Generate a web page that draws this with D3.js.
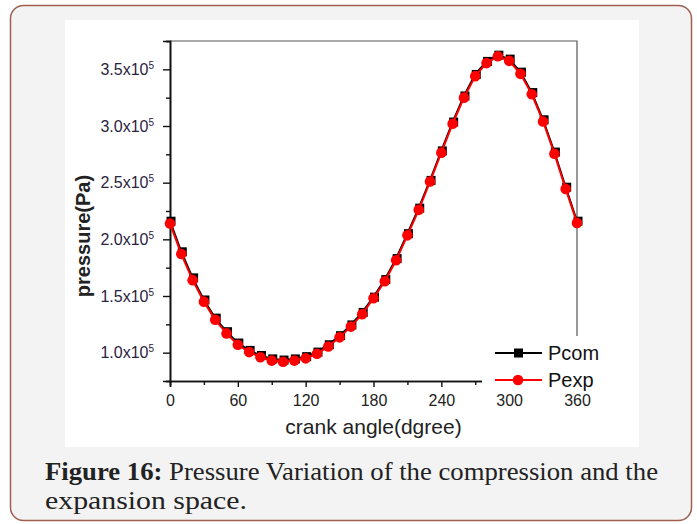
<!DOCTYPE html>
<html>
<head>
<meta charset="utf-8">
<script src="https://cdn.jsdelivr.net/npm/d3@7"></script>
<style>
body{margin:0;background:#ffffff;}
svg{display:block;}
</style>
</head>
<body>
<svg id="pGraph"></svg>
<script>
// crank angle in degrees
var angles = [0,10,20,30,40,50,60,70,80,90,100,110,120,130,140,150,160,170,180,
              190,200,210,220,230,240,250,260,270,280,290,300,310,320,330,340,350,360]

// pressure, in units of 1e5 Pa
var pcom = [2.16,1.89,1.66,1.465,1.305,1.185,1.085,1.02,0.975,0.945,0.935,0.945,0.965,1.005,
            1.07,1.15,1.245,1.355,1.49,1.645,1.83,2.05,2.275,2.52,2.78,3.035,3.265,3.455,
            3.57,3.625,3.59,3.475,3.295,3.055,2.77,2.46,2.16]
var pexp = [2.14,1.87,1.64,1.45,1.29,1.17,1.07,1.005,0.96,0.93,0.92,0.93,0.95,0.99,
            1.055,1.135,1.23,1.34,1.48,1.63,1.815,2.035,2.26,2.51,2.765,3.02,3.25,3.44,
            3.555,3.615,3.575,3.46,3.28,3.04,2.755,2.445,2.145]

var xMajor = [0,60,120,180,240,300,360]
var xMinor = [30,90,150,210,270,330]
var yMajor = [1.0,1.5,2.0,2.5,3.0,3.5]
var yMinor = [0.75,1.25,1.75,2.25,2.75,3.25,3.75]

var legendNames = ["Pcom","Pexp"]

var screen = {width:697,height:524}
var plot = {left:170,right:577,top:41,bottom:381}

var svg = d3.select("#pGraph")
    .attr("width",screen.width)
    .attr("height",screen.height)

// outer card
svg.append("rect")
    .attr("x",10.5).attr("y",5.5)
    .attr("width",681).attr("height",515)
    .attr("rx",13).attr("ry",13)
    .attr("fill","#f3f3f3")
    .attr("stroke","#a0604f")
    .attr("stroke-width",1.5)

// white chart panel
svg.append("rect")
    .attr("x",65).attr("y",20)
    .attr("width",574).attr("height",427)
    .attr("fill","#ffffff")

var xScale = d3.scaleLinear()
    .domain([0,360])
    .range([plot.left,plot.right])

var yScale = d3.scaleLinear()
    .domain([0.75,3.75])
    .range([plot.bottom,plot.top])

// top and right frame
svg.append("path")
    .attr("d","M"+plot.left+","+plot.top+"H"+plot.right+"V"+plot.bottom)
    .attr("fill","none")
    .attr("stroke","#555")
    .attr("stroke-width",1.2)

var drawAxes = function()
{
    var xAxis = d3.axisBottom(xScale).tickValues(xMajor).tickSize(6).tickPadding(8)
        .tickFormat(d3.format("d"))
    var gx = svg.append("g")
        .attr("transform","translate(0,"+plot.bottom+")")
        .call(xAxis)
    svg.append("g")
        .attr("transform","translate(0,"+plot.bottom+")")
        .call(d3.axisBottom(xScale).tickValues(xMinor).tickSize(4).tickFormat(""))

    var yAxis = d3.axisLeft(yScale).tickValues(yMajor).tickSize(7).tickPadding(9)
        .tickFormat(d3.format(".1f"))
    var gy = svg.append("g")
        .attr("transform","translate("+plot.left+",0)")
        .call(yAxis)
    svg.append("g")
        .attr("transform","translate("+plot.left+",0)")
        .call(d3.axisLeft(yScale).tickValues(yMinor).tickSize(4).tickFormat(""))

    svg.selectAll(".domain").attr("stroke","#111").attr("stroke-width",1.6)
    svg.selectAll(".tick line").attr("stroke","#111").attr("stroke-width",1.4)

    gx.selectAll("text")
        .attr("font-family","Liberation Sans, Arial, sans-serif")
        .attr("font-size",16)
        .attr("fill","#222")

    // y labels as 1.0x10^5
    gy.selectAll("text").each(function(d){
        var t = d3.select(this)
        t.text(null)
            .attr("font-family","Liberation Sans, Arial, sans-serif")
            .attr("font-size",16)
            .attr("fill","#2a2440")
        t.append("tspan").text(d3.format(".1f")(d)+"x10")
        t.append("tspan").attr("dy","-0.6em").attr("font-size",10).text("5")
    })
}

var drawSeries = function(values,color,shape)
{
    var line = d3.line()
        .x(function(d,i){return xScale(angles[i])})
        .y(function(d){return yScale(d)})

    svg.append("path")
        .datum(values)
        .attr("d",line)
        .attr("fill","none")
        .attr("stroke",color)
        .attr("stroke-width",2)

    if(shape=="square")
    {
        svg.append("g").selectAll("rect")
            .data(values)
            .enter()
            .append("rect")
            .attr("x",function(d,i){return xScale(angles[i])-4.5+1})
            .attr("y",function(d){return yScale(d)-4.5})
            .attr("width",9)
            .attr("height",9)
            .attr("fill",color)
    }
    else
    {
        svg.append("g").selectAll("circle")
            .data(values)
            .enter()
            .append("circle")
            .attr("cx",function(d,i){return xScale(angles[i])})
            .attr("cy",function(d){return yScale(d)})
            .attr("r",5.3)
            .attr("fill",color)
    }
}

drawAxes()
drawSeries(pcom,"#000000","square")
drawSeries(pexp,"#ff0000","circle")

// axis titles
svg.append("text")
    .attr("x",(plot.left+plot.right)/2)
    .attr("y",434)
    .attr("text-anchor","middle")
    .attr("font-family","Liberation Sans, Arial, sans-serif")
    .attr("font-size",21)
    .attr("fill","#222")
    .text("crank angle(dgree)")

svg.append("text")
    .attr("transform","translate(90,236) rotate(-90)")
    .attr("text-anchor","middle")
    .attr("font-family","Liberation Sans, Arial, sans-serif")
    .attr("font-size",20)
    .attr("font-weight","bold")
    .attr("fill","#222")
    .text("pressure(Pa)")

// legend, its white box covers the corner of the frame
var legend = svg.append("g")
legend.append("rect")
    .attr("x",482).attr("y",336)
    .attr("width",122).attr("height",55)
    .attr("fill","#ffffff")

var legendColors = ["#000000","#ff0000"]
legendNames.forEach(function(name,i){
    var ly = 353 + i*27
    legend.append("line")
        .attr("x1",495).attr("x2",542)
        .attr("y1",ly).attr("y2",ly)
        .attr("stroke",legendColors[i])
        .attr("stroke-width",2)
    if(i==0)
    {
        legend.append("rect")
            .attr("x",514).attr("y",ly-4.5)
            .attr("width",9).attr("height",9)
            .attr("fill",legendColors[i])
    }
    else
    {
        legend.append("circle")
            .attr("cx",518).attr("cy",ly)
            .attr("r",5.3)
            .attr("fill",legendColors[i])
    }
    legend.append("text")
        .attr("x",548)
        .attr("y",ly+7)
        .attr("font-family","Liberation Sans, Arial, sans-serif")
        .attr("font-size",20)
        .attr("fill","#111")
        .text(name)
})

// caption
var cap = svg.append("text")
    .attr("x",45)
    .attr("y",480)
    .attr("font-family","Liberation Serif, Times New Roman, serif")
    .attr("font-size",25)
    .attr("fill","#222")
    .attr("textLength",613)
    .attr("lengthAdjust","spacingAndGlyphs")
cap.append("tspan").attr("font-weight","bold").text("Figure 16:")
cap.append("tspan").text(" Pressure Variation of the compression and the")

svg.append("text")
    .attr("x",45)
    .attr("y",509)
    .attr("font-family","Liberation Serif, Times New Roman, serif")
    .attr("font-size",25)
    .attr("fill","#222")
    .attr("textLength",202)
    .attr("lengthAdjust","spacingAndGlyphs")
    .text("expansion space.")
</script>
</body>
</html>
